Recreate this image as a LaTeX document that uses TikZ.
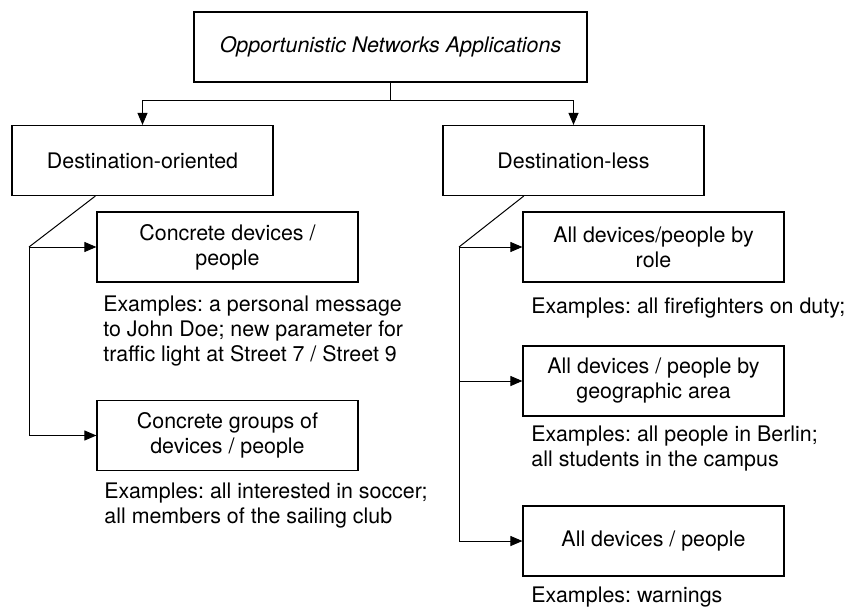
\documentclass[tikz,border=0pt]{standalone}
\usepackage{fontspec}
\setmainfont{TeX Gyre Heros}
\usetikzlibrary{arrows.meta}
\usetikzlibrary{calc}
\frenchspacing

\begin{document}
\begin{tikzpicture}[x=0.5pt,y=-0.5pt,
		box/.style={draw,line width=0.6pt,minimum width=130.5pt,minimum height=35pt,align=center,inner sep=2pt,font=\fontsize{10.7}{12.5}\selectfont},
		examples/.style={anchor=north west,align=left,inner sep=0pt,font=\fontsize{10.7}{12.5}\selectfont},
		link/.style={line width=0.5pt,-{Triangle[length=6pt,width=5pt]}}]
			\useasboundingbox (0,0) rectangle (849,606);
			\node[box,minimum width=196.5pt,font=\fontsize{10.7}{12.5}\selectfont\itshape] (app) at (390.5,47) {Opportunistic Networks Applications};
			\node[box] (dor) at (142.5,160.5) {Destination-oriented};
			\node[box] (dls) at (573.5,160.5) {Destination-less};
			\draw[link] (app.south) -- ++(0,18) -| (dor.north);
			\draw[link] (app.south) -- ++(0,18) -| (dls.north);

			% destination-oriented branch
			\node[box] (cd) at (227.5,247) {Concrete devices /\\people};
			\node[examples] (cdex) at (103,295) {Examples: a personal message\\to John Doe; new parameter for\\traffic light at Street 7 / Street 9};
			\node[box] (cg) at (227.5,435.5) {Concrete groups of\\devices / people};
			\node[examples] (cgex) at (104,482) {Examples: all interested in soccer;\\all members of the sailing club};
			\coordinate (lsplit) at (29,247);
			\draw[line width=0.5pt] ($(dor.south west)!0.32!(dor.south east)$) -- (lsplit);
			\draw[link] (lsplit) -- (cd.west);
			\draw[link] (lsplit) |- (cg.west);

			% destination-less branch
			\node[box] (rl) at (653.5,247) {All devices/people by\\role};
			\node[examples] (rlex) at (531,297) {Examples: all firefighters on duty;};
			\node[box] (ga) at (653.5,381) {All devices / people by\\geographic area};
			\node[examples] (gaex) at (531,425) {Examples: all people in Berlin;\\all students in the campus};
			\node[box] (ad) at (653.5,541) {All devices / people};
			\node[examples] (adex) at (531,586) {Examples: warnings};
			\coordinate (rsplit) at (459,247);
			\draw[line width=0.5pt] ($(dls.south west)!0.31!(dls.south east)$) -- (rsplit);
			\draw[link] (rsplit) -- (rl.west);
			\draw[link] (rsplit) |- (ga.west);
			\draw[link] (rsplit) |- (ad.west);
		\end{tikzpicture}
\end{document}
